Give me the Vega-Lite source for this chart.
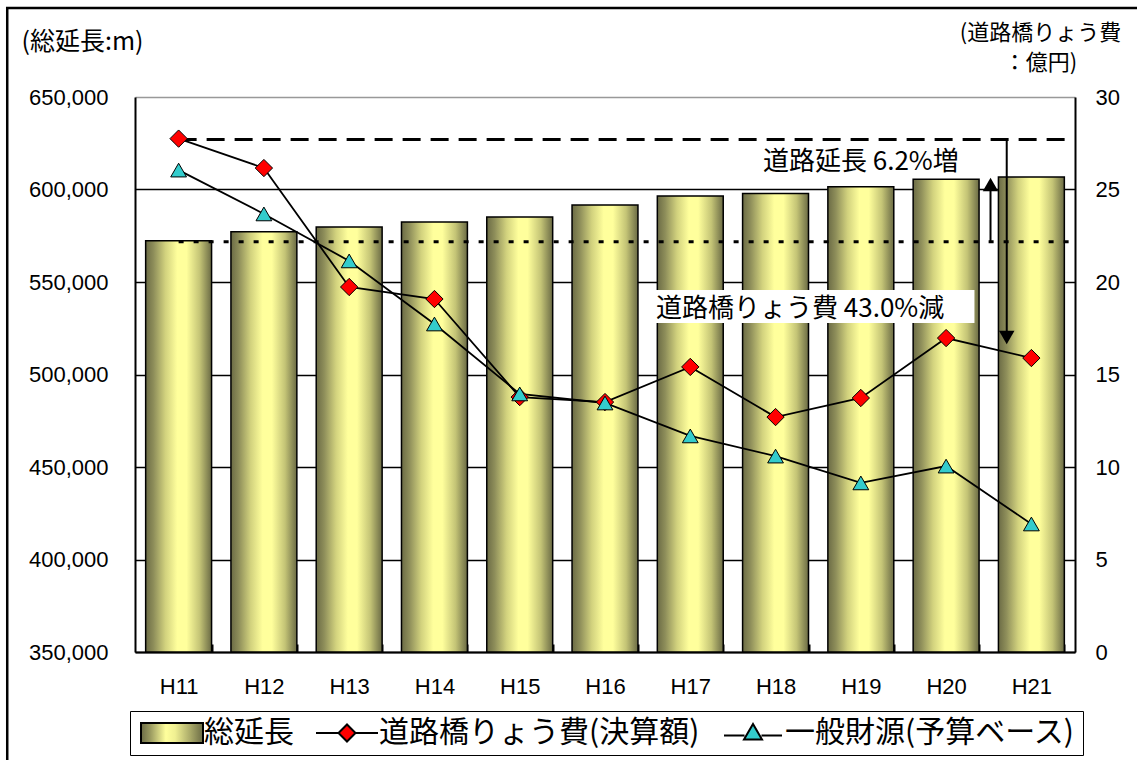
{
  "$schema": "https://vega.github.io/schema/vega-lite/v6.json",
  "width": 940,
  "height": 555,
  "autosize": {"type": "none"},
  "padding": {"left": 135, "top": 97, "right": 62, "bottom": 108},
  "background": "white",
  "config": {"view": {"stroke": null}, "font": "Noto Sans CJK JP"},
  "datasets": {
    "length": [
      {"year": "H11", "length": 572300},
      {"year": "H12", "length": 577200},
      {"year": "H13", "length": 579700},
      {"year": "H14", "length": 582400},
      {"year": "H15", "length": 585100},
      {"year": "H16", "length": 591600},
      {"year": "H17", "length": 596500},
      {"year": "H18", "length": 597900},
      {"year": "H19", "length": 601500},
      {"year": "H20", "length": 605500},
      {"year": "H21", "length": 606800}
    ],
    "cost": [
      {"year": "H11", "series": "道路橋りょう費(決算額)", "value": 27.75},
      {"year": "H12", "series": "道路橋りょう費(決算額)", "value": 26.16},
      {"year": "H13", "series": "道路橋りょう費(決算額)", "value": 19.73},
      {"year": "H14", "series": "道路橋りょう費(決算額)", "value": 19.08},
      {"year": "H15", "series": "道路橋りょう費(決算額)", "value": 13.78},
      {"year": "H16", "series": "道路橋りょう費(決算額)", "value": 13.51},
      {"year": "H17", "series": "道路橋りょう費(決算額)", "value": 15.41},
      {"year": "H18", "series": "道路橋りょう費(決算額)", "value": 12.7},
      {"year": "H19", "series": "道路橋りょう費(決算額)", "value": 13.73},
      {"year": "H20", "series": "道路橋りょう費(決算額)", "value": 16.97},
      {"year": "H21", "series": "道路橋りょう費(決算額)", "value": 15.89},
      {"year": "H11", "series": "一般財源(予算ベース)", "value": 26.05},
      {"year": "H12", "series": "一般財源(予算ベース)", "value": 23.68},
      {"year": "H13", "series": "一般財源(予算ベース)", "value": 21.14},
      {"year": "H14", "series": "一般財源(予算ベース)", "value": 17.73},
      {"year": "H15", "series": "一般財源(予算ベース)", "value": 13.95},
      {"year": "H16", "series": "一般財源(予算ベース)", "value": 13.46},
      {"year": "H17", "series": "一般財源(予算ベース)", "value": 11.68},
      {"year": "H18", "series": "一般財源(予算ベース)", "value": 10.59},
      {"year": "H19", "series": "一般財源(予算ベース)", "value": 9.14},
      {"year": "H20", "series": "一般財源(予算ベース)", "value": 10.05},
      {"year": "H21", "series": "一般財源(予算ベース)", "value": 6.92}
    ]
  },
  "layer": [
    {
      "data": {"name": "length"},
      "mark": {
        "type": "bar",
        "stroke": "black",
        "strokeWidth": 1.5,
        "color": {
          "gradient": "linear",
          "x1": 0, "y1": 0, "x2": 1, "y2": 0,
          "stops": [
            {"offset": 0, "color": "#6b6b45"},
            {"offset": 0.12, "color": "#8e8e5a"},
            {"offset": 0.3, "color": "#d2d27e"},
            {"offset": 0.48, "color": "#ffff9c"},
            {"offset": 0.62, "color": "#ffff9c"},
            {"offset": 0.82, "color": "#c4c476"},
            {"offset": 1, "color": "#6b6b45"}
          ]
        }
      },
      "encoding": {
        "x": {
          "field": "year",
          "type": "nominal",
          "sort": null,
          "scale": {
            "type": "band",
            "domain": ["H11", "H12", "H13", "H14", "H15", "H16", "H17", "H18", "H19", "H20", "H21"],
            "paddingInner": 0.227,
            "paddingOuter": 0.125
          },
          "axis": {
            "title": null,
            "labelAngle": 0,
            "labelFont": "Liberation Sans",
            "labelFontSize": 22,
            "labelColor": "black",
            "labelPadding": 32,
            "domainColor": "black",
            "domainWidth": 2,
            "tickColor": "black",
            "tickWidth": 2,
            "tickSize": -8,
            "tickBand": "extent",
            "grid": false
          }
        },
        "y": {
          "field": "length",
          "type": "quantitative",
          "scale": {"domain": [350000, 650000], "zero": false, "nice": false},
          "axis": {
            "title": "(総延長:m)",
            "values": [350000, 400000, 450000, 500000, 550000, 600000, 650000],
            "format": ",d",
            "grid": true,
            "gridColor": {"condition": {"test": "datum.value === 650000", "value": "#999999"}, "value": "black"},
            "gridWidth": 1.5,
            "ticks": false,
            "domainColor": "black",
            "domainWidth": 2,
            "labelFont": "Liberation Sans",
            "labelFontSize": 22,
            "labelColor": "black",
            "labelPadding": 27,
            "titleAngle": 0,
            "titleAlign": "left",
            "titleBaseline": "top",
            "titleX": -114,
            "titleY": -68,
            "titleFont": "Noto Sans CJK JP",
            "titleFontSize": 25,
            "titleFontWeight": "normal",
            "titleColor": "black"
          }
        },
        "y2": {"datum": 350000}
      }
    },
    {
      "data": {"values": [{"from": "H11", "to": "H21", "value": 571800}]},
      "mark": {"type": "rule", "color": "black", "strokeWidth": 3, "strokeDash": [5, 10]},
      "encoding": {
        "x": {"field": "from", "type": "nominal", "bandPosition": 0.5},
        "x2": {"field": "to", "bandPosition": 1.12},
        "y": {"field": "value", "type": "quantitative", "scale": {"domain": [350000, 650000], "zero": false, "nice": false}, "axis": null}
      }
    },
    {
      "data": {"values": [{"year": "H21", "lo": 571800, "hi": 602700}]},
      "mark": {"type": "rule", "color": "black", "strokeWidth": 2},
      "encoding": {
        "x": {"field": "year", "type": "nominal", "bandPosition": -0.12},
        "y": {"field": "lo", "type": "quantitative", "scale": {"domain": [350000, 650000], "zero": false, "nice": false}, "axis": null},
        "y2": {"field": "hi"}
      }
    },
    {
      "data": {"values": [{"year": "H21", "value": 602700}]},
      "mark": {"type": "point", "shape": "triangle-up", "filled": true, "color": "black", "opacity": 1, "size": 240},
      "encoding": {
        "x": {"field": "year", "type": "nominal", "bandPosition": -0.12},
        "y": {"field": "value", "type": "quantitative", "scale": {"domain": [350000, 650000], "zero": false, "nice": false}, "axis": null}
      }
    },
    {
      "data": {"name": "cost"},
      "mark": {"type": "line", "color": "black", "strokeWidth": 1.8},
      "encoding": {
        "x": {"field": "year", "type": "nominal", "sort": null},
        "y": {
          "field": "value",
          "type": "quantitative",
          "scale": {"domain": [0, 30], "nice": false},
          "axis": {
            "orient": "right",
            "title": ["(道路橋りょう費", "：億円)"],
            "values": [0, 5, 10, 15, 20, 25, 30],
            "grid": false,
            "ticks": false,
            "domainColor": "black",
            "domainWidth": 2,
            "labelFont": "Liberation Sans",
            "labelFontSize": 22,
            "labelColor": "black",
            "labelPadding": 20,
            "titleAngle": 0,
            "titleAlign": "center",
            "titleBaseline": "top",
            "titleX": -35,
            "titleY": -75,
            "titleLineHeight": 30,
            "titleFont": "Noto Sans CJK JP",
            "titleFontSize": 22,
            "titleFontWeight": "normal",
            "titleColor": "black"
          }
        },
        "detail": {"field": "series", "type": "nominal"}
      }
    },
    {
      "data": {"values": [{"from": "H11", "to": "H21", "value": 27.7}]},
      "mark": {"type": "rule", "color": "black", "strokeWidth": 3, "strokeDash": [18, 10]},
      "encoding": {
        "x": {"field": "from", "type": "nominal", "bandPosition": 0.5},
        "x2": {"field": "to", "bandPosition": 1.12},
        "y": {"field": "value", "type": "quantitative", "scale": {"domain": [0, 30], "nice": false}, "axis": null}
      }
    },
    {
      "data": {"values": [{"from": "H17", "to": "H20", "lo": 17.78, "hi": 19.57}]},
      "mark": {"type": "rect", "color": "white", "opacity": 1},
      "encoding": {
        "x": {"field": "from", "type": "nominal", "bandPosition": -0.19},
        "x2": {"field": "to", "bandPosition": 0.93},
        "y": {"field": "lo", "type": "quantitative", "scale": {"domain": [0, 30], "nice": false}, "axis": null},
        "y2": {"field": "hi"}
      }
    },
    {
      "data": {"values": [{"year": "H19", "value": 26.49, "label": "道路延長 6.2%増"}]},
      "mark": {"type": "text", "font": "Noto Sans CJK JP", "fontSize": 26, "align": "center", "baseline": "middle", "color": "black"},
      "encoding": {
        "x": {"field": "year", "type": "nominal", "bandPosition": 0.5},
        "y": {"field": "value", "type": "quantitative", "scale": {"domain": [0, 30], "nice": false}, "axis": null},
        "text": {"field": "label"}
      }
    },
    {
      "data": {"values": [{"year": "H17", "value": 18.54, "label": "道路橋りょう費 43.0%減"}]},
      "mark": {"type": "text", "font": "Noto Sans CJK JP", "fontSize": 26, "align": "left", "baseline": "middle", "color": "black"},
      "encoding": {
        "x": {"field": "year", "type": "nominal", "bandPosition": -0.02},
        "y": {"field": "value", "type": "quantitative", "scale": {"domain": [0, 30], "nice": false}, "axis": null},
        "text": {"field": "label"}
      }
    },
    {
      "data": {"values": [{"year": "H21", "lo": 17.0, "hi": 27.7}]},
      "mark": {"type": "rule", "color": "black", "strokeWidth": 2},
      "encoding": {
        "x": {"field": "year", "type": "nominal", "bandPosition": 0.126},
        "y": {"field": "lo", "type": "quantitative", "scale": {"domain": [0, 30], "nice": false}, "axis": null},
        "y2": {"field": "hi"}
      }
    },
    {
      "data": {"values": [{"year": "H21", "value": 17.0}]},
      "mark": {"type": "point", "shape": "triangle-down", "filled": true, "color": "black", "opacity": 1, "size": 240},
      "encoding": {
        "x": {"field": "year", "type": "nominal", "bandPosition": 0.126},
        "y": {"field": "value", "type": "quantitative", "scale": {"domain": [0, 30], "nice": false}, "axis": null}
      }
    },
    {
      "data": {"values": [{"from": "H11", "to": "H21", "top": 34.81, "bottom": -8}]},
      "mark": {"type": "rect", "fill": null, "filled": false, "stroke": "black", "strokeWidth": 2.5, "opacity": 1},
      "encoding": {
        "x": {"field": "from", "type": "nominal", "bandPosition": -2.1},
        "x2": {"field": "to", "bandPosition": 3},
        "y": {"field": "top", "type": "quantitative", "scale": {"domain": [0, 30], "nice": false}, "axis": null},
        "y2": {"field": "bottom"}
      }
    },
    {
      "data": {"name": "cost"},
      "transform": [{"filter": "datum.series === '道路橋りょう費(決算額)'"}],
      "mark": {"type": "point", "shape": "diamond", "filled": true, "fill": "#ff0000", "stroke": "black", "strokeWidth": 1, "opacity": 1, "size": 300},
      "encoding": {
        "x": {"field": "year", "type": "nominal", "sort": null},
        "y": {"field": "value", "type": "quantitative", "scale": {"domain": [0, 30], "nice": false}, "axis": null}
      }
    },
    {
      "data": {"name": "cost"},
      "transform": [{"filter": "datum.series === '一般財源(予算ベース)'"}],
      "mark": {"type": "point", "shape": "triangle-up", "filled": true, "fill": "#33cccc", "stroke": "black", "strokeWidth": 1, "opacity": 1, "size": 250},
      "encoding": {
        "x": {"field": "year", "type": "nominal", "sort": null},
        "y": {"field": "value", "type": "quantitative", "scale": {"domain": [0, 30], "nice": false}, "axis": null}
      }
    },
    {
      "data": {"values": [{"series": "総延長"}, {"series": "道路橋りょう費(決算額)"}, {"series": "一般財源(予算ベース)"}]},
      "mark": {"type": "point", "filled": true, "size": 0, "opacity": 1, "fillOpacity": 1, "strokeOpacity": 1, "stroke": "black", "strokeWidth": 2},
      "encoding": {
        "fill": {
          "field": "series",
          "type": "nominal",
          "scale": {
            "domain": ["総延長", "道路橋りょう費(決算額)", "一般財源(予算ベース)"],
            "range": [
              {"expr": "{gradient: 'linear', x1: 0, y1: 0, x2: 1, y2: 0, stops: [{offset: 0, color: '#6b6b45'}, {offset: 0.15, color: '#9a9a60'}, {offset: 0.4, color: '#ffff9c'}, {offset: 0.55, color: '#f0f092'}, {offset: 0.8, color: '#a8a868'}, {offset: 1, color: '#6b6b45'}]}"},
              "#ff0000",
              "#33cccc"
            ]
          },
          "legend": {
            "title": null,
            "orient": "none",
            "legendX": -5,
            "legendY": 614,
            "direction": "horizontal",
            "padding": 7,
            "columnPadding": 18,
            "symbolSize": 400,
            "symbolOffset": 20,
            "symbolOpacity": 1,
            "labelOffset": 17,
            "labelFont": "Noto Sans CJK JP",
            "labelFontSize": 30,
            "labelColor": "black",
            "labelLimit": 600,
            "symbolStrokeColor": "black",
            "symbolStrokeWidth": 2,
            "strokeColor": "black",
            "fillColor": "white"
          }
        },
        "shape": {
          "field": "series",
          "type": "nominal",
          "scale": {
            "domain": ["総延長", "道路橋りょう費(決算額)", "一般財源(予算ベース)"],
            "range": [
              "M-3.1,-1L3.1,-1L3.1,1L-3.1,1Z",
              "M-3.1,0L-0.85,0M0.85,0L3.1,0M-0.85,0L0,-0.85L0.85,0L0,0.85Z",
              "M-2.9,0.25L-0.85,0.25M0.85,0.25L2.9,0.25M0,-0.9L0.9,0.65L-0.9,0.65Z"
            ]
          }
        }
      }
    }
  ],
  "resolve": {"scale": {"y": "independent"}}
}
